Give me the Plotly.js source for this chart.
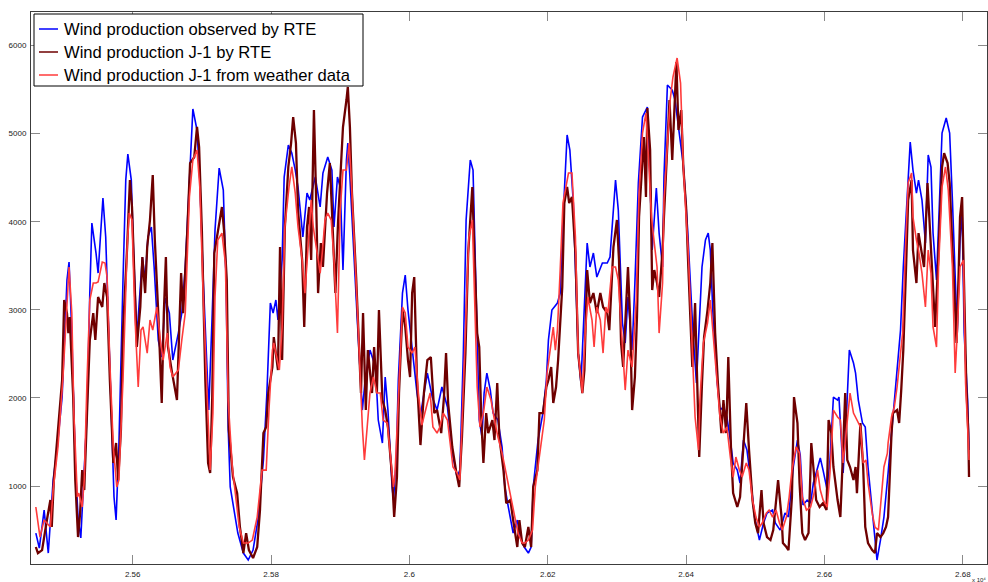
<!DOCTYPE html>
<html>
<head>
<meta charset="utf-8">
<script src="https://cdn.plot.ly/plotly-3.0.1.min.js"></script>
<style>
html,body{margin:0;padding:0;background:#fff;}
#chart{width:988px;height:582px;}
</style>
</head>
<body>
<div id="chart"></div>
<script>
// Series names
const seriesNames = [
  "Wind production observed by RTE",
  "Wind production J-1 by RTE",
  "Wind production J-1 from weather data"
];

// Observed by RTE (x in raw units, axis labelled x 10^4)
const obsX = [
25460,25465,25472,25478,25485,25491,25498,25505,25508,25512,
25517,25521,25525,25528,25534,25538,25541,25547,25550,25554,
25557,25561,25566,25570,25573,25576,25580,25586,25590,25593,
25598,25601,25606,25614,25618,25622,25627,25631,25637,25642,
25647,25653,25658,25666,25671,25676,25683,25687,25693,25697,
25702,25708,25710,25715,25719,25725,25731,25735,25738,25741,
25745,25752,25760,25767,25774,25781,25789,25794,25799,25803,
25807,25810,25816,25819,25825,25830,25835,25839,25846,25852,
25856,25864,25871,25875,25882,25888,25891,25896,25900,25904,
25909,25911,25914,25919,25926,25932,25936,25943,25951,25955,
25961,25965,25969,25975,25977,25981,25984,25990,25994,25998,
26004,26011,26016,26026,26033,26040,26047,26055,26062,26069,
26073,26078,26082,26088,26092,26097,26101,26105,26108,26112,
26117,26121,26128,26134,26138,26143,26150,26156,26160,26166,
26172,26176,26179,26186,26193,26198,26201,26206,26214,26218,
26222,26228,26232,26237,26241,26244,26248,26251,26257,26261,
26266,26271,26279,26286,26290,26298,26302,26308,26312,26316,
26322,26326,26331,26337,26344,26348,26351,26357,26361,26366,
26368,26373,26380,26384,26390,26396,26402,26406,26410,26415,
26418,26423,26428,26432,26435,26439,26445,26449,26454,26459,
26464,26468,26474,26478,26483,26488,26493,26499,26506,26512,
26517,26525,26529,26536,26543,26548,26555,26561,26565,26569,
26575,26580,26584,26590,26594,26598,26604,26608,26613,26619,
26621,26627,26632,26636,26642,26645,26649,26655,26659,26663,
26669,26673,26676,26681,26686,26692,26699,26705,26710,26714,
26720,26724,26728,26733,26736,26741,26746,26750,26754,26757,
26762,26765,26770,26776,26781,26785,26789,26792,26796,26799,
26802,26807,26809];
const obsY = [
466,296,727,239,1068,1443,2010,3338,3542,2736,
1261,648,410,875,1828,3190,3985,3644,3417,3905,
4269,3826,2578,1443,875,614,1443,3338,4473,4768,
4473,3713,2691,3599,3338,3826,3940,3486,2657,2464,
3134,2963,2430,2736,2963,3486,4666,5279,5040,4473,
3338,2203,1862,2963,3905,4609,4359,3338,1670,989,
807,466,239,160,273,614,1295,2055,3077,2963,
3111,2884,3565,4507,4870,4779,4586,4394,3826,4325,
4246,4507,4167,4552,4734,4586,3940,4507,4394,3451,
4700,4893,4507,3713,2691,1862,2203,2543,2351,1749,
1488,2237,1862,989,841,1295,2203,3190,3395,2997,
2543,2055,1805,2282,2010,1862,2124,1897,1374,1102,
1181,2509,4019,4700,4586,2884,1749,1556,2055,2282,
2089,1828,1749,1443,989,762,466,614,421,308,
239,308,989,1522,1828,2203,2657,2997,3077,3190,
4019,4984,4813,4212,3259,2509,2169,2691,3758,3486,
3644,3372,3531,3531,3599,4473,4132,2850,2623,3145,
2543,3304,4439,5188,5302,4439,3678,4382,3871,3486,
4507,5551,5494,5381,5040,4643,3940,3304,2736,2169,
2736,3486,3792,3871,3678,2918,2169,1862,1897,1783,
1522,1261,1181,1034,1522,1408,1102,648,387,580,
693,727,580,500,693,648,1216,1522,1352,784,
841,807,1034,1216,1318,1181,954,1295,2010,1976,
2010,1147,1828,2543,2396,2282,1976,1715,1670,1216,
727,387,160,387,648,1147,1749,2282,2770,3486,
4325,4904,4586,4325,4473,4246,3758,4757,4621,3871,
3338,4053,5006,5177,5006,4246,3259,2736,3792,4132,
2736,1976,1408];

// J-1 forecast by RTE
const rteX = [
25460,25463,25469,25473,25476,25481,25483,25486,25492,25498,
25501,25505,25507,25509,25514,25517,25521,25524,25527,25530,
25534,25538,25543,25546,25550,25556,25559,25563,25567,25572,
25576,25579,25583,25586,25592,25596,25599,25603,25606,25611,
25614,25618,25621,25625,25629,25632,25637,25642,25645,25648,
25651,25657,25664,25670,25673,25679,25683,25689,25693,25696,
25700,25705,25709,25712,25715,25718,25723,25729,25732,25736,
25739,25745,25751,25755,25760,25764,25768,25774,25780,25784,
25789,25793,25796,25802,25804,25810,25813,25816,25820,25825,
25829,25832,25836,25839,25845,25848,25852,25855,25858,25862,
25865,25868,25872,25875,25881,25885,25888,25893,25897,25900,
25904,25909,25911,25914,25917,25923,25926,25930,25933,25937,
25940,25946,25949,25953,25956,25961,25965,25969,25975,25978,
25982,25985,25990,25994,25998,26001,26004,26007,26011,26016,
26021,26026,26031,26036,26040,26046,26050,26053,26056,26062,
26068,26072,26076,26081,26085,26088,26091,26094,26098,26101,
26104,26107,26111,26114,26120,26123,26127,26130,26136,26140,
26146,26150,26156,26159,26163,26167,26172,26176,26179,26185,
26188,26193,26198,26201,26205,26208,26212,26215,26221,26224,
26228,26231,26235,26240,26244,26250,26253,26257,26261,26266,
26271,26276,26280,26286,26289,26295,26300,26303,26306,26309,
26313,26316,26319,26322,26326,26329,26332,26337,26339,26342,
26344,26348,26351,26354,26358,26361,26366,26368,26373,26376,
26380,26383,26386,26389,26393,26396,26400,26403,26406,26409,
26413,26416,26419,26423,26426,26431,26435,26438,26442,26446,
26451,26454,26458,26461,26465,26468,26474,26478,26483,26487,
26491,26496,26500,26504,26509,26512,26517,26522,26526,26530,
26533,26538,26540,26545,26548,26553,26556,26561,26564,26568,
26572,26577,26581,26584,26588,26593,26598,26603,26606,26610,
26613,26619,26623,26627,26630,26633,26637,26642,26645,26647,
26652,26656,26659,26663,26669,26673,26676,26681,26685,26689,
26692,26697,26699,26705,26708,26711,26714,26718,26721,26726,
26728,26733,26736,26740,26744,26749,26753,26757,26760,26763,
26766,26770,26773,26778,26781,26785,26788,26791,26794,26796,
26799,26802,26805,26808,26809];
const rteY = [
308,239,273,500,614,841,535,1068,1601,2203,
3111,2963,2736,2918,2010,1068,421,693,1181,954,
1828,2657,2963,2657,3145,3032,3304,3145,2203,1261,
1488,1068,1635,2770,3713,4473,4167,3259,2578,3032,
3599,3190,3713,4019,4530,3792,2963,1942,2963,3599,
2578,2282,1976,3417,2963,3905,4666,4734,5075,4848,
3905,2203,1261,1147,2010,3644,3871,4167,3905,3338,
1635,1102,920,535,239,466,273,183,308,727,
1601,1670,2055,2351,2691,2316,3713,2430,3940,4621,
4893,5188,4893,4132,3565,2805,3940,4167,3565,5267,
4325,3190,3758,3486,4325,4666,4132,3190,4019,4507,
5075,5381,5529,5075,4325,3372,2805,2055,2963,1862,
2543,2055,2578,2055,2997,1976,1862,1670,1102,648,
1102,2055,2997,2805,2430,2237,3190,3372,2203,1465,
2055,2430,2464,1828,1862,1601,2010,2509,1942,1443,
1147,989,1556,2509,3644,4098,4394,3644,2736,2578,
1749,1261,1828,1601,1749,1522,2169,1556,1181,807,
841,614,308,614,353,308,535,308,989,1181,
1828,1828,2124,2203,2351,1942,2124,2430,3259,4212,
4394,4212,4280,3644,2509,2055,2316,3451,3077,3190,
2963,3190,3032,2963,2770,3713,4019,3565,2623,2351,
2918,3486,2918,1862,2237,2918,4053,4734,4961,4280,
5290,4813,3224,3451,3304,3145,3678,4053,4893,5381,
4700,5267,5812,5040,5267,4621,4167,3531,2997,2351,
3077,2169,1329,2169,2691,2997,3304,3758,2736,2169,
1601,1976,1601,2464,1408,920,762,875,1408,1942,
1408,841,580,466,954,580,421,387,500,841,
1068,648,353,308,273,875,2010,1715,1034,466,
387,466,1488,1216,841,762,807,727,1749,1601,
1216,841,648,1408,2055,1295,1216,1068,1216,920,
1715,1216,535,353,273,239,466,421,466,535,
648,1601,1828,1862,1715,2089,2543,3486,4246,4473,
3678,3304,3871,3678,3486,4439,3871,3304,2805,3304,
3871,4621,4779,4666,4439,3678,3032,2623,3417,4053,
4280,3111,2169,1601,1102];

// J-1 forecast from weather data
const wxX = [
25460,25466,25472,25476,25481,25485,25492,25499,25505,25508,
25512,25515,25520,25522,25527,25530,25534,25538,25543,25547,
25550,25556,25560,25563,25567,25572,25577,25580,25586,25592,
25595,25599,25603,25608,25612,25615,25621,25625,25629,25635,
25640,25644,25650,25654,25658,25666,25671,25676,25682,25687,
25693,25697,25702,25708,25712,25716,25719,25723,25729,25734,
25738,25744,25748,25754,25760,25767,25773,25780,25787,25793,
25797,25802,25804,25809,25812,25816,25820,25826,25830,25835,
25839,25845,25849,25854,25858,25861,25867,25871,25874,25878,
25882,25887,25891,25896,25900,25904,25909,25913,25917,25922,
25926,25932,25935,25939,25943,25948,25953,25958,25962,25968,
25972,25977,25979,25984,25990,25994,25998,26004,26008,26013,
26018,26026,26030,26034,26040,26044,26049,26055,26059,26063,
26069,26073,26078,26084,26086,26091,26094,26098,26102,26107,
26112,26118,26123,26128,26134,26138,26143,26149,26153,26157,
26163,26167,26172,26178,26182,26189,26195,26199,26204,26208,
26211,26214,26218,26222,26230,26235,26240,26244,26250,26254,
26258,26264,26267,26271,26276,26280,26284,26287,26293,26298,
26302,26308,26312,26316,26322,26328,26332,26337,26342,26345,
26350,26354,26358,26361,26366,26368,26373,26377,26381,26387,
26392,26396,26400,26403,26409,26413,26418,26420,26425,26431,
26435,26439,26445,26449,26454,26459,26464,26468,26472,26477,
26481,26487,26491,26496,26501,26506,26510,26516,26520,26525,
26530,26535,26539,26545,26549,26553,26559,26564,26568,26574,
26580,26585,26590,26594,26598,26604,26608,26613,26619,26623,
26627,26633,26637,26642,26647,26652,26656,26660,26663,26669,
26673,26678,26684,26686,26691,26692,26697,26701,26705,26713,
26717,26721,26726,26728,26733,26736,26741,26746,26750,26754,
26757,26762,26765,26770,26775,26779,26785,26789,26792,26796,
26801,26804,26807,26809];
const wxY = [
762,421,614,580,535,954,1443,2203,3145,3486,
2963,1828,875,920,762,1068,2203,3111,3304,3304,
3315,3542,3531,3372,2396,1443,989,1068,2203,3713,
4098,4019,2963,2124,2770,2805,2509,2884,2770,3032,
2657,2430,2736,2351,2237,2316,2657,2963,4280,4700,
4813,4394,3145,1828,1181,1828,3145,3792,3871,3531,
1976,1216,920,535,353,353,387,648,1181,1181,
1862,2543,2623,2430,2316,2805,3940,4394,4621,4325,
3940,3565,3190,3758,4246,3940,3644,3417,3644,4019,
4098,4019,3565,2736,4132,4586,4586,4893,4325,3565,
2805,1670,1295,1670,2055,2237,2055,2055,1749,1715,
1374,989,1102,2055,3032,2963,2578,2509,2578,2055,
1692,1942,2055,1670,1601,1670,1828,1749,1443,1216,
1147,1068,2124,3451,3826,4019,3077,2124,1670,1828,
2124,1976,1749,1556,1374,1216,989,762,614,466,
353,353,387,500,989,1374,1749,2282,2578,2805,
2543,2770,3451,4212,4552,4552,3826,2509,2055,2691,
3145,2884,2578,3032,2884,2509,3032,2963,3486,3486,
3338,2543,2089,2543,2351,3111,4325,5006,5233,4813,
4053,3758,3486,2736,3304,4246,4893,5381,5642,5858,
5574,4621,4053,3678,2543,1783,1408,1976,2623,2850,
3111,2736,2237,1783,1601,1670,1329,1102,1329,1181,
1102,1261,1181,841,648,535,580,693,727,648,
727,580,500,648,875,1181,1443,1374,875,727,
762,920,1181,954,841,762,1147,1862,1783,1749,
1261,1783,2055,1828,1749,1670,1261,1295,1034,693,
535,500,1034,1216,1374,1488,1783,1897,2124,2736,
3678,4439,4552,4053,3792,3678,3417,3032,3678,3417,
2805,2578,3486,4394,4621,4359,3486,2282,2736,3486,
3565,2169,1670,1295];

// Axis ticks
const xTickVals = [25600,25800,26000,26200,26400,26600,26800];
const xTickText = ["2.56","2.58","2.6","2.62","2.64","2.66","2.68"];
const yTickVals = [1000,2000,3000,4000,5000,6000];

const colors = ["#0000ff", "#6e0000", "#ff3b3b"];
const widths = [1.6, 2.3, 1.6];

const traces = [
  {x: obsX, y: obsY},
  {x: rteX, y: rteY},
  {x: wxX, y: wxY}
].map((d, i) => ({
  type: "scatter", mode: "lines", name: seriesNames[i],
  x: d.x, y: d.y,
  line: {color: colors[i], width: widths[i]},
  hoverinfo: "skip"
}));

// Manual legend (MATLAB-style box)
const L = 31, R = 987, T = 12, B = 564;
const px = v => (v - L) / (R - L);
const py = v => (B - v) / (B - T);
const rows = [29, 52, 75];
const shapes = [{
  type: "rect", xref: "paper", yref: "paper",
  x0: px(34), x1: px(363), y0: py(86), y1: py(14),
  line: {color: "#000", width: 1}, fillcolor: "#fff", layer: "above"
}];
const annotations = [];
rows.forEach((r, i) => {
  shapes.push({type: "line", xref: "paper", yref: "paper",
    x0: px(39), x1: px(58), y0: py(r), y1: py(r),
    line: {color: colors[i], width: 1.5}, layer: "above"});
  annotations.push({xref: "paper", yref: "paper", x: px(62), y: py(r + 0.5),
    xanchor: "left", yanchor: "middle", showarrow: false,
    text: seriesNames[i],
    font: {family: "Liberation Sans, Arial, sans-serif", size: 16.6, color: "#000"}});
});
annotations.push({xref: "paper", yref: "paper", x: px(988), y: py(580),
  xanchor: "right", yanchor: "middle", showarrow: false,
  text: "x 10\u2074",
  font: {family: "Liberation Sans, Arial, sans-serif", size: 6, color: "#222"}});

const axisCommon = {
  showline: true, linecolor: "#3c3c3c", linewidth: 1, mirror: "ticks",
  ticks: "inside", ticklen: 9, tickcolor: "#8a8a8a", tickwidth: 1,
  showgrid: false, zeroline: false,
  tickfont: {family: "Liberation Sans, Arial, sans-serif", size: 8, color: "#222"}
};

const layout = {
  width: 988, height: 582,
  margin: {l: L, r: 988 - R, t: T, b: 582 - B},
  paper_bgcolor: "#fff", plot_bgcolor: "#fff",
  showlegend: false,
  xaxis: Object.assign({}, axisCommon, {
    range: [25453, 26835], tickmode: "array",
    tickvals: xTickVals, ticktext: xTickText, ticklabelstandoff: 2
  }),
  yaxis: Object.assign({}, axisCommon, {
    range: [115, 6380], tickmode: "array",
    tickvals: yTickVals, ticktext: yTickVals.map(String), ticklabelstandoff: 2
  }),
  shapes: shapes,
  annotations: annotations
};

Plotly.newPlot("chart", traces, layout, {displayModeBar: false, staticPlot: true});
</script>
</body>
</html>
